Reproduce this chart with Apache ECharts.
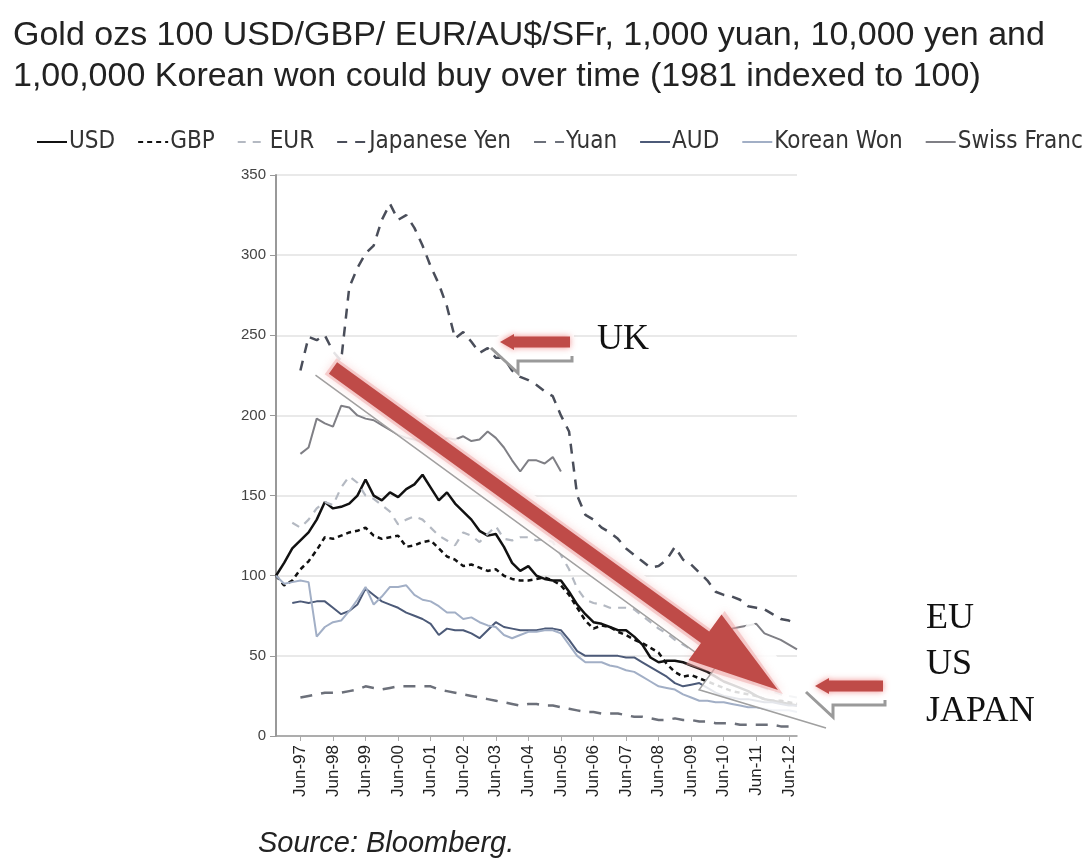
<!DOCTYPE html>
<html><head><meta charset="utf-8">
<script src="https://cdn.jsdelivr.net/npm/echarts@6/dist/echarts.min.js"></script>
<style>html,body{margin:0;padding:0;background:#fff}#c{width:1088px;height:863px}</style>
</head><body><div id="c"></div>
<script>
const categories = ["Sep-96","Dec-96","Mar-97","Jun-97","Sep-97","Dec-97","Mar-98","Jun-98","Sep-98","Dec-98","Mar-99","Jun-99","Sep-99","Dec-99","Mar-00","Jun-00","Sep-00","Dec-00","Mar-01","Jun-01","Sep-01","Dec-01","Mar-02","Jun-02","Sep-02","Dec-02","Mar-03","Jun-03","Sep-03","Dec-03","Mar-04","Jun-04","Sep-04","Dec-04","Mar-05","Jun-05","Sep-05","Dec-05","Mar-06","Jun-06","Sep-06","Dec-06","Mar-07","Jun-07","Sep-07","Dec-07","Mar-08","Jun-08","Sep-08","Dec-08","Mar-09","Jun-09","Sep-09","Dec-09","Mar-10","Jun-10","Sep-10","Dec-10","Mar-11","Jun-11","Sep-11","Dec-11","Mar-12","Jun-12","Sep-12"];
const usd = [100,108,117,122,127,135,146,142,143,145,150,160,150,147,152,149,154,157,163,155,147,152,145,140,135,128,125,126,118,108,103,106,100,98,97,97,90,82,76,71,70,68,66,66,62,57,49,46,47,47,46,44,42,40,37,34,32,30,28,25,23,22,21,20,19];
const gbp = [100,94,97,104,109,116,124,123,125,127,128,130,125,123,124,125,118,119,121,122,117,112,110,106,107,105,103,104,100,98,97,97,98,99,97,94,88,80,72,67,69,68,65,63,60,58,55,52,45,40,37,38,36,34,32,30,28,27,26,25,23,22,22,21,20];
const eur = [null,null,133,130,135,142,146,144,155,162,158,150,148,144,140,132,135,137,135,130,125,122,119,127,125,121,126,131,123,122,124,124,122,123,121,113,104,92,85,83,82,80,80,80,79,75,71,67,64,60,57,54,51,48,45,42,40,37,35,32,30,28,26,25,24];
const yen = [null,null,null,228,249,247,250,240,234,280,292,301,306,322,332,322,325,317,306,293,282,268,248,252,246,239,242,236,236,228,224,222,219,215,212,200,190,150,138,135,130,127,123,117,113,109,105,106,110,118,110,107,102,97,90,88,87,85,81,80,79,76,73,72,70];
const yuan = [null,null,null,24,25,26,27,27,27,28,29,31,30,29,30,31,31,31,31,31,29,28,27,26,25,24,23,22,21,20,19,20,20,19,19,18,17,16,15,15,14,14,14,13,12,12,11,10,10,11,10,10,9,9,8,8,8,7,7,7,7,7,6,6,6];
const aud = [null,null,83,84,83,84,84,80,76,78,82,92,88,84,82,80,77,75,73,70,63,67,66,66,64,61,66,71,68,67,66,66,66,67,67,66,60,53,50,50,50,50,50,49,49,46,43,40,37,33,31,32,33,30,27,25,24,23,23,22,21,21,20,19,19];
const won = [100,95,96,97,96,62,68,71,72,78,85,93,82,87,93,93,94,88,85,84,81,77,77,73,74,71,69,68,63,61,63,65,65,66,66,64,57,50,46,46,46,44,43,41,40,37,34,31,30,29,26,24,22,22,21,21,20,19,18,18,17,16,16,16,15];
const sfr = [null,null,null,176,180,198,195,193,206,205,200,198,197,194,191,188,186,185,183,180,182,186,185,187,184,185,190,186,180,172,165,172,172,170,174,165,null,null,null,null,null,null,null,null,null,null,null,null,null,null,null,null,null,null,null,null,67,68,69,70,64,62,60,57,54];
const yTicks = [0,50,100,150,200,250,300,350];
const titleText = "Gold ozs 100 USD/GBP/ EUR/AU$/SFr, 1,000 yuan, 10,000 yen and\n1,00,000 Korean won could buy over time (1981 indexed to 100)";

function hasFont(name){
  const c=document.createElement('canvas').getContext('2d');
  c.font='40px monospace'; const a=c.measureText('Japanese Yen Korean Won').width;
  c.font='40px "'+name+'", monospace'; const b=c.measureText('Japanese Yen Korean Won').width;
  return a!==b;
}
let legendFont='Liberation Sans';
for (const f of ['Liberation Sans Narrow','DejaVu Sans Condensed','Roboto Condensed','Open Sans Condensed']) { if (hasFont(f)) { legendFont=f; break; } }
const condensed = legendFont !== 'Liberation Sans';

const seriesDefs = [
  {name:'USD', data:usd, color:'#111111', type:'solid', w:2.5},
  {name:'GBP', data:gbp, color:'#111111', type:[5,4], w:2.5},
  {name:'EUR', data:eur, color:'#b4b9c2', type:[8,7], w:2.2},
  {name:'Japanese Yen', data:yen, color:'#4a4e5a', type:[10,8], w:2.5},
  {name:'Yuan', data:yuan, color:'#6c707a', type:[12,9], w:2.5},
  {name:'AUD', data:aud, color:'#4c5a78', type:'solid', w:2},
  {name:'Korean Won', data:won, color:'#a2afc6', type:'solid', w:2},
  {name:'Swiss Franc', data:sfr, color:'#7f7f85', type:'solid', w:2}
];

function arrowPts(S, T, sh, hh, hl, back){
  const dx=T[0]-S[0], dy=T[1]-S[1], L=Math.hypot(dx,dy);
  const u=[dx/L,dy/L], n=[-u[1],u[0]];
  const S2=[S[0]-u[0]*back, S[1]-u[1]*back];
  const B=[T[0]-u[0]*hl, T[1]-u[1]*hl];
  const p=(P,k)=>[P[0]+n[0]*k, P[1]+n[1]*k];
  return {poly:[p(S2,sh),p(B,sh),p(B,hh),T,p(B,-hh),p(B,-sh),p(S2,-sh)], lower:[p(S2,sh),p(B,sh),p(B,hh),T]};
}
const red='#bf4b48';
const haloMain = arrowPts([333,368],[826,728],16,44,125,10);
const glowMain = arrowPts([333,368],[783,694],10,33,96,3);
const redMain = arrowPts([333,368],[778,690],7,28,90,0);

function smallArrow(tx, ty, len){
  return [
    {type:'polygon', z:100, shape:{points:[[tx-12,ty+1],[tx+18,ty-20],[tx+18,ty-12],[tx+len+4,ty-12],[tx+len+4,ty+20],[tx+18,ty+20],[tx+18,ty+32]]}, style:{fill:'rgba(255,255,255,0.9)'}},
    {type:'polyline', z:101, shape:{points:[[tx-9,ty+6],[tx+18,ty+31],[tx+18,ty+19],[tx+len+2,ty+19],[tx+len+2,ty+14]]}, style:{stroke:'#9a9a9a', lineWidth:3, fill:null}},
    {type:'polygon', z:102, shape:{points:[[tx,ty],[tx+14,ty-8],[tx+14,ty-5.5],[tx+len,ty-5.5],[tx+len,ty+5.5],[tx+14,ty+5.5],[tx+14,ty+8]]}, style:{fill:red, shadowBlur:6, shadowColor:'rgba(240,130,130,0.9)'}}
  ];
}

const chart = echarts.init(document.getElementById('c'), null, {renderer:'canvas'});
chart.setOption({
  animation:false,
  backgroundColor:'#ffffff',
  title:{text:titleText, left:8, top:10, textStyle:{fontSize:34, fontWeight:'normal', color:'#222', lineHeight:41, fontFamily:'Liberation Sans'}},
  legend:{left:31, top:125, itemWidth:30, itemHeight:4, itemGap: condensed ? 22 : 24,
    itemStyle:{opacity:0},
    textStyle:{fontSize: condensed ? 24 : 21, color:'#333', fontFamily:legendFont, padding:[0,0,0,-3]},
    data:seriesDefs.map(s=>s.name)},
  grid:{left:276, right:291, top:175, bottom:127, containLabel:false},
  xAxis:{type:'category', data:categories, boundaryGap:false,
    axisLine:{lineStyle:{color:'#999', width:1.5}},
    axisTick:{show:true, length:5, lineStyle:{color:'#aaa'}, interval:(i,v)=>v.startsWith('Jun')},
    axisLabel:{rotate:90, fontSize:17, color:'#222', fontFamily:'Liberation Sans', margin:9, interval:(i,v)=>v.startsWith('Jun')},
    splitLine:{show:false}},
  yAxis:{type:'value', min:yTicks[0], max:yTicks[yTicks.length-1], interval:50,
    axisLine:{show:true, lineStyle:{color:'#999', width:2}},
    axisTick:{show:true, length:6, lineStyle:{color:'#999'}},
    axisLabel:{fontSize:15, color:'#444', fontFamily:'Liberation Sans', margin:10},
    splitLine:{lineStyle:{color:'#e2e2e2', width:1.5}}},
  series: seriesDefs.map(s=>({name:s.name, type:'line', data:s.data, symbol:'none', showSymbol:false, connectNulls:false,
    itemStyle:{color:s.color}, lineStyle:{color:s.color, width:s.w, type:s.type}})),
  graphic:[
    {type:'polygon', z:100, shape:{points:haloMain.poly}, style:{fill:'rgba(255,255,255,0.85)'}},
    {type:'polyline', z:101, shape:{points:haloMain.lower}, style:{stroke:'#a0a0a0', lineWidth:1.5, fill:null}},
    {type:'polygon', z:102, shape:{points:glowMain.poly}, style:{fill:'rgba(238,160,160,0.45)', shadowBlur:8, shadowColor:'rgba(240,150,150,0.7)'}},
    {type:'polygon', z:103, shape:{points:redMain.poly}, style:{fill:red}},
    ...smallArrow(500,342,70),
    ...smallArrow(815,686,68),
    {type:'text', z:110, left:597, top:322, style:{text:'UK', font:'36px "Liberation Serif"', fill:'#111'}},
    {type:'text', z:110, left:926, top:601, style:{text:'EU', font:'36px "Liberation Serif"', fill:'#111'}},
    {type:'text', z:110, left:926, top:647, style:{text:'US', font:'36px "Liberation Serif"', fill:'#111'}},
    {type:'text', z:110, left:926, top:694, style:{text:'JAPAN', font:'36px "Liberation Serif"', fill:'#111'}},
    {type:'text', z:110, left:258, top:829, style:{text:'Source: Bloomberg.', font:'italic 29px "Liberation Sans"', fill:'#222'}}
  ]
});
</script></body></html>
